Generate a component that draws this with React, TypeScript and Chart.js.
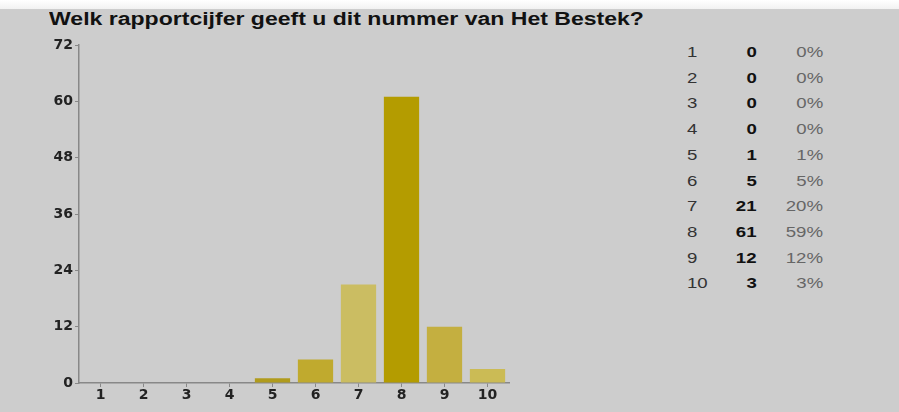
import React, { useEffect, useRef } from "react";
import { Chart, registerables } from "chart.js";

Chart.register(...registerables);

const TITLE = "Welk rapportcijfer geeft u dit nummer van Het Bestek?";
const categories = ["1", "2", "3", "4", "5", "6", "7", "8", "9", "10"];
const counts = [0, 0, 0, 0, 1, 5, 21, 61, 12, 3];
const percents = ["0%", "0%", "0%", "0%", "1%", "5%", "20%", "59%", "12%", "3%"];
const barColors = [
  "#b8a430", "#b8a430", "#b8a430", "#b8a430",
  "#b09b1c", "#c0aa2e", "#cbbd62", "#b49c00", "#c4af40", "#cbbb55",
];
const yTicks = [0, 12, 24, 36, 48, 60, 72];

const BG = "#cdcdcd";
const FONT = "'Liberation Sans', Arial, sans-serif";
const TICK_FONT = "'DejaVu Sans', sans-serif";
const SX = 1.33;

export default function App() {
  const ref = useRef<HTMLCanvasElement>(null);

  useEffect(() => {
    if (!ref.current) return;
    const chart = new Chart(ref.current, {
      type: "bar",
      data: {
        labels: categories,
        datasets: [
          {
            data: counts,
            backgroundColor: barColors,
            borderWidth: 0,
            barPercentage: 0.82,
            categoryPercentage: 1,
          },
        ],
      },
      options: {
        animation: false,
        responsive: false,
        maintainAspectRatio: false,
        layout: { padding: { left: 0, right: 11, top: 45, bottom: 0 } },
        plugins: { legend: { display: false }, tooltip: { enabled: false } },
        scales: {
          x: {
            afterFit: (s: any) => { s.height = 29; },
            grid: {
              offset: false,
              drawOnChartArea: false,
              drawTicks: true,
              tickLength: 4,
              color: "#888",
            },
            border: { color: "#888", width: 1.5 },
            ticks: {
              color: "#222",
              font: { family: TICK_FONT, size: 14, weight: "bold" },
              padding: 0,
            },
          },
          y: {
            min: 0,
            max: 72,
            afterFit: (s: any) => { s.width = 79; },
            afterBuildTicks: (s: any) => { s.ticks = yTicks.map((v) => ({ value: v })); },
            grid: {
              drawOnChartArea: false,
              drawTicks: true,
              tickLength: 4,
              color: "#888",
            },
            border: { color: "#888", width: 1.5 },
            ticks: {
              color: "#222",
              font: { family: TICK_FONT, size: 14, weight: "bold" },
              padding: 2,
            },
          },
        },
      },
    });
    return () => chart.destroy();
  }, []);

  const cell = (text: string | number, right: number | null, left: number | null, top: number, extra: React.CSSProperties) => (
    <div
      style={{
        position: "absolute",
        top,
        fontSize: 14,
        lineHeight: "18px",
        whiteSpace: "nowrap",
        ...(right !== null ? { right: 899 - right, transformOrigin: "right center" } : { left: left as number, transformOrigin: "left center" }),
        transform: `scaleX(${SX})`,
        ...extra,
      }}
    >
      {text}
    </div>
  );

  return (
    <div style={{ position: "absolute", left: 0, top: 0, width: 899, height: 412, background: BG, overflow: "hidden", fontFamily: FONT }}>
      <div style={{ position: "absolute", left: 0, top: 0, width: 899, height: 9, background: "linear-gradient(#ffffff, #f2f2f2)" }} />
      <div style={{ position: "absolute", left: 49, top: 7, fontSize: 18, fontWeight: "bold", color: "#111", whiteSpace: "nowrap", lineHeight: "24px", transform: "scaleX(1.28)", transformOrigin: "left center" }}>
        {TITLE}
      </div>
      <canvas ref={ref} width={520} height={412} style={{ position: "absolute", left: 0, top: 0, width: 520, height: 412 }} />
      {categories.map((c, i) => {
        const top = 52 + 25.7 * i - 9;
        return (
          <React.Fragment key={c}>
            {cell(c, null, 687, top, { color: "#333" })}
            {cell(counts[i], 757, null, top, { color: "#111", fontWeight: "bold" })}
            {cell(percents[i], 823, null, top, { color: "#666" })}
          </React.Fragment>
        );
      })}
    </div>
  );
}
